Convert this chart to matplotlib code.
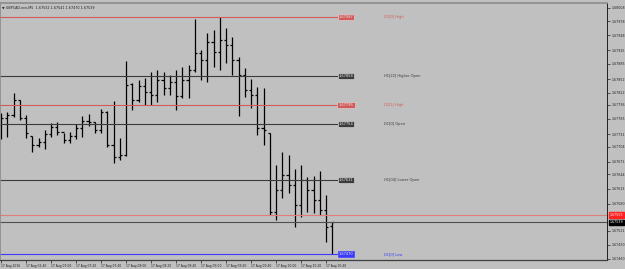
import matplotlib
matplotlib.use('Agg')
import matplotlib.pyplot as plt
import matplotlib.transforms as mtrans

## Data (GBPCAD M5, 17 Aug 2016)
opens = [1.67751, 1.67767, 1.67773, 1.67806, 1.67767, 1.67727, 1.67708, 1.67714, 1.67732, 1.67747,
         1.67736, 1.67719, 1.67727, 1.67745, 1.67760, 1.67758, 1.67741, 1.67780, 1.67708, 1.67682,
         1.67686, 1.67841, 1.67806, 1.67836, 1.67823, 1.67817, 1.67850, 1.67832, 1.67845, 1.67815,
         1.67850, 1.67871, 1.67908, 1.67893, 1.67932, 1.67911, 1.67937, 1.67926, 1.67893, 1.67860,
         1.67828, 1.67817, 1.67745, 1.67734, 1.67562, 1.67610, 1.67642, 1.67621, 1.67577, 1.67632,
         1.67610, 1.67588, 1.67566, 1.67532]
highs = [1.67778, 1.67780, 1.67821, 1.67806, 1.67773, 1.67727, 1.67723, 1.67741, 1.67756, 1.67758,
         1.67734, 1.67736, 1.67754, 1.67771, 1.67775, 1.67758, 1.67786, 1.67782, 1.67804, 1.67723,
         1.67891, 1.67843, 1.67850, 1.67854, 1.67867, 1.67871, 1.67867, 1.67860, 1.67871, 1.67878,
         1.67882, 1.67982, 1.67915, 1.67952, 1.67959, 1.67987, 1.67963, 1.67943, 1.67900, 1.67876,
         1.67852, 1.67834, 1.67832, 1.67734, 1.67664, 1.67693, 1.67686, 1.67655, 1.67664, 1.67638,
         1.67640, 1.67651, 1.67599, 1.67541]
lows = [1.67721, 1.67725, 1.67769, 1.67762, 1.67723, 1.67693, 1.67703, 1.67699, 1.67725, 1.67730,
        1.67712, 1.67712, 1.67721, 1.67725, 1.67749, 1.67734, 1.67734, 1.67703, 1.67669, 1.67675,
        1.67685, 1.67784, 1.67802, 1.67795, 1.67795, 1.67802, 1.67817, 1.67817, 1.67784, 1.67810,
        1.67810, 1.67867, 1.67850, 1.67845, 1.67878, 1.67871, 1.67887, 1.67860, 1.67771, 1.67812,
        1.67788, 1.67730, 1.67708, 1.67555, 1.67544, 1.67592, 1.67603, 1.67529, 1.67551, 1.67562,
        1.67560, 1.67555, 1.67496, 1.67470]
closes = [1.67767, 1.67773, 1.67806, 1.67767, 1.67734, 1.67708, 1.67714, 1.67732, 1.67747, 1.67736,
          1.67719, 1.67727, 1.67745, 1.67760, 1.67758, 1.67741, 1.67780, 1.67708, 1.67682, 1.67686,
          1.67839, 1.67806, 1.67836, 1.67823, 1.67817, 1.67850, 1.67832, 1.67845, 1.67815, 1.67850,
          1.67871, 1.67908, 1.67893, 1.67932, 1.67911, 1.67937, 1.67926, 1.67893, 1.67860, 1.67828,
          1.67817, 1.67745, 1.67741, 1.67562, 1.67610, 1.67642, 1.67621, 1.67577, 1.67632, 1.67610,
          1.67588, 1.67566, 1.67529, 1.67539]

# levels drawn by the indicator
level_vals = [1.67987, 1.67858, 1.67795, 1.67754, 1.67631, 1.67470]
level_names = ['D1[0] High', 'H1[22] Higher Open', 'D1[1] High', 'D1[0] Open',
               'H1[04] Lower Open', 'D1[0] Low']
level_colors = ['#d25a5a', '#3c3c3c', '#d25a5a', '#3c3c3c', '#3c3c3c', '#3a3aff']

bid = 1.67539
ask = 1.67555

price_ticks = [1.68008, 1.67978, 1.67948, 1.67915, 1.67885, 1.67852, 1.67822, 1.67796, 1.67765,
               1.67731, 1.67704, 1.67671, 1.67644, 1.67613, 1.67580, 1.67521, 1.67490, 1.67460]
time_ticks = [0, 4, 8, 12, 16, 20, 24, 28, 32, 36, 40, 44, 48, 52]
time_labels = ['17 Aug 2016', '17 Aug 06:40', '17 Aug 07:00', '17 Aug 07:20', '17 Aug 07:40',
               '17 Aug 08:00', '17 Aug 08:20', '17 Aug 08:40', '17 Aug 09:00', '17 Aug 09:20',
               '17 Aug 09:40', '17 Aug 10:00', '17 Aug 10:20', '17 Aug 10:40']

title = 'GBPCAD.ecn,M5  1.67532 1.67541 1.67470 1.67539'

## Plot
bg = '#c0c0c0'
W, H = 625, 269
fig = plt.figure(figsize=(W/100, H/100), dpi=100, facecolor=bg)
# axes in pixel coords: x 0..607, y 3..260 (from top)
ax = fig.add_axes([0/W, (H-260)/H, 607/W, (260-3)/H], facecolor=bg)

idx = list(range(len(opens)))
ax.vlines(idx, lows, highs, color='black', linewidth=0.9)
ax.hlines(opens, [i - 0.33 for i in idx], idx, color='black', linewidth=0.9)
ax.hlines(closes, idx, [i + 0.33 for i in idx], color='black', linewidth=0.9)

# indicator levels with price boxes and names
box_x = 55.2
name_x = 61.3
for v, name, c in zip(level_vals, level_names, level_colors):
    ax.plot([-1, box_x - 1.4], [v, v], color=c, linewidth=0.8)
    ax.text(box_x, v, f'{v:.5f}', fontsize=2.6, color='#e8e8e8', ha='center', va='center',
            bbox=dict(boxstyle='square,pad=0.3', fc=c, ec='#e0e0e0' if c != '#3a3aff' else c,
                      linewidth=0.4))
    ax.text(name_x, v, name, fontsize=2.6, color=c, ha='left', va='center')

# bid / ask lines
ax.axhline(ask, color='#e07c7c', linewidth=0.8)
ax.axhline(bid, color='#505050', linewidth=0.8)
tr = mtrans.blended_transform_factory(ax.transAxes, ax.transData)
ax.text(1.004, ask, f'{ask:.5f}', transform=tr, fontsize=2.3, color='white', ha='left',
        va='center', bbox=dict(boxstyle='square,pad=0.25', fc='#ff2020', ec='#ff2020'))
ax.text(1.004, bid, f'{bid:.5f}', transform=tr, fontsize=2.3, color='white', ha='left',
        va='center', bbox=dict(boxstyle='square,pad=0.25', fc='black', ec='black'))

ax.set_xlim(-0.16, 96.96)
ax.set_ylim(1.67457, 1.68018)

ax.yaxis.tick_right()
ax.set_yticks(price_ticks)
ax.set_yticklabels([f'{p:.5f}' for p in price_ticks])
ax.tick_params(axis='y', labelsize=2.3, length=2, width=0.5, pad=1.2, colors='#202020')
ax.set_xticks(time_ticks)
ax.set_xticklabels(time_labels, ha='left')
ax.tick_params(axis='x', labelsize=2.2, length=2, width=0.5, pad=1.0, colors='#202020')

for s in ['left', 'top']:
    ax.spines[s].set_color('#8c8c8c')
    ax.spines[s].set_linewidth(1.2)
ax.spines['right'].set_color('#202020')
ax.spines['right'].set_linewidth(0.7)
ax.spines['bottom'].set_color('#404040')
ax.spines['bottom'].set_linewidth(0.9)

ax.text(0.004, 0.988, '\u25bc ' + title, transform=ax.transAxes, fontsize=2.4,
        color='#202020', ha='left', va='top')

fig.savefig('out.png', dpi=100, facecolor=bg)
